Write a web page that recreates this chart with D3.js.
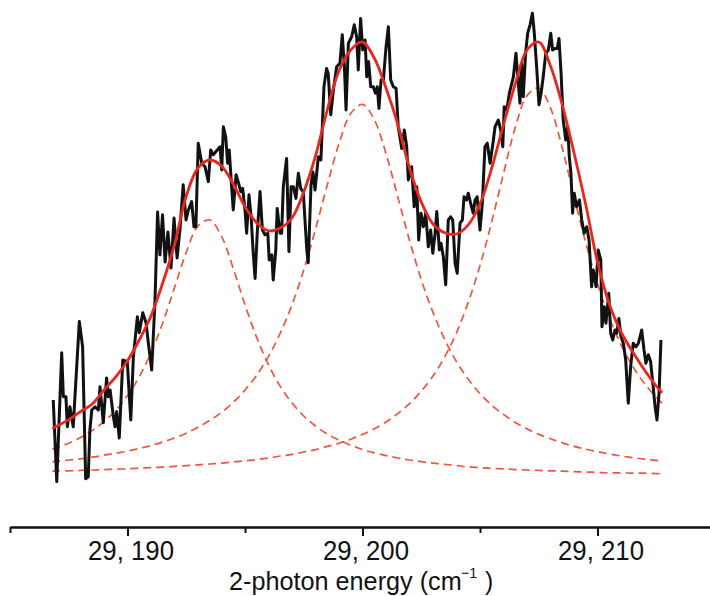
<!DOCTYPE html>
<html><head><meta charset="utf-8">
<script src="https://cdn.jsdelivr.net/npm/d3@7"></script>
<style>body{margin:0;background:#fff} svg{display:block}</style>
</head><body><svg id="chart" width="710" height="596"></svg>
<script>
const energy = [29186.84,29186.99,29187.20,29187.27,29187.38,29187.44,29187.55,29187.62,29187.69,29187.95,
29188.09,29188.22,29188.33,29188.40,29188.48,29188.62,29188.76,29188.83,29188.97,29189.11,
29189.18,29189.26,29189.40,29189.47,29189.54,29189.65,29189.80,29189.99,29190.14,29190.25,
29190.42,29190.50,29190.65,29190.79,29190.88,29191.03,29191.17,29191.28,29191.38,29191.49,
29191.60,29191.72,29191.85,29191.98,29192.11,29192.23,29192.37,29192.49,29192.59,29192.73,
29192.83,29192.91,29193.01,29193.16,29193.30,29193.44,29193.54,29193.65,29193.82,29193.94,
29194.01,29194.08,29194.18,29194.26,29194.33,29194.43,29194.50,29194.62,29194.71,29194.82,
29194.90,29195.00,29195.07,29195.17,29195.26,29195.35,29195.43,29195.52,29195.64,29195.74,
29195.85,29195.97,29196.03,29196.14,29196.20,29196.31,29196.37,29196.49,29196.56,29196.63,
29196.77,29196.87,29196.96,29197.06,29197.17,29197.27,29197.37,29197.48,29197.63,29197.69,
29197.81,29197.89,29197.98,29198.12,29198.23,29198.36,29198.47,29198.54,29198.65,29198.76,
29198.90,29199.04,29199.14,29199.23,29199.30,29199.40,29199.54,29199.65,29199.75,29199.82,
29199.92,29200.01,29200.11,29200.18,29200.26,29200.35,29200.46,29200.55,29200.63,29200.70,
29200.79,29200.89,29200.99,29201.10,29201.20,29201.31,29201.43,29201.52,29201.67,29201.78,
29201.88,29201.95,29202.09,29202.20,29202.31,29202.39,29202.49,29202.59,29202.69,29202.80,
29202.90,29202.99,29203.09,29203.16,29203.27,29203.34,29203.44,29203.54,29203.65,29203.75,
29203.84,29203.94,29204.03,29204.15,29204.25,29204.32,29204.43,29204.50,29204.60,29204.71,
29204.79,29204.88,29205.00,29205.10,29205.21,29205.31,29205.43,29205.57,29205.64,29205.78,
29205.88,29205.97,29206.03,29206.14,29206.25,29206.42,29206.53,29206.63,29206.70,29206.77,
29206.84,29206.94,29207.03,29207.13,29207.23,29207.31,29207.41,29207.51,29207.60,29207.69,
29207.80,29207.91,29208.01,29208.09,29208.19,29208.29,29208.36,29208.45,29208.54,29208.65,
29208.73,29208.80,29208.87,29208.94,29209.01,29209.11,29209.23,29209.33,29209.43,29209.54,
29209.64,29209.75,29209.82,29209.94,29210.03,29210.14,29210.19,29210.29,29210.36,29210.48,
29210.56,29210.65,29210.74,29210.82,29210.91,29211.00,29211.10,29211.20,29211.31,29211.41,
29211.52,29211.64,29211.74,29211.88,29211.98,29212.06,29212.16,29212.26,29212.37,29212.45,
29212.53,29212.62,29212.70];
const signal = [22.5,2.1,34.3,23.3,23.3,15.8,20.8,18.3,15.8,42.1,
35.8,2.8,3.3,15.0,20.0,20.8,20.0,25.8,16.8,28.0,
23.3,25.0,18.3,15.8,19.6,13.0,32.5,32.1,17.5,33.3,
43.3,39.3,44.3,41.8,37.1,30.0,47.5,69.5,58.8,68.8,
57.0,64.5,55.5,68.0,58.0,65.0,76.3,67.5,70.0,72.1,
65.8,65.8,86.7,81.7,80.8,77.1,85.0,83.8,85.0,85.8,
80.0,90.8,88.3,81.7,85.0,75.8,70.0,78.8,77.1,74.6,
75.4,70.0,64.2,73.8,68.3,59.2,52.9,64.2,74.6,65.0,
63.8,64.2,57.5,58.8,52.5,60.0,70.4,64.2,64.2,75.8,
82.9,59.6,75.8,75.8,72.9,79.2,75.4,74.5,60.0,56.8,
76.3,79.5,75.0,83.3,82.5,100.8,105.4,104.2,93.8,100.0,
105.8,106.7,113.8,105.8,95.0,111.7,113.3,116.3,113.3,105.0,
117.9,110.0,112.5,103.3,107.1,100.8,100.8,99.2,100.8,95.4,
102.5,102.5,110.0,115.8,102.5,100.8,100.4,90.8,85.4,90.0,
85.8,77.5,80.8,70.8,75.8,62.5,69.2,65.8,69.2,60.8,
65.0,59.2,64.2,69.6,60.0,61.7,58.3,51.3,67.5,68.3,
67.5,56.7,54.2,66.7,67.5,73.3,72.5,74.2,71.7,69.2,
72.5,73.3,65.0,71.7,85.8,86.7,81.7,87.5,90.8,92.5,
90.0,85.8,95.8,95.0,99.2,103.3,109.2,101.7,96.7,106.7,
98.3,109.2,114.2,116.3,119.2,114.2,105.8,96.3,99.2,103.3,
109.2,110.0,114.2,110.0,110.4,110.4,112.9,104.2,92.5,87.5,
90.8,83.3,79.2,69.2,74.2,70.8,72.5,67.5,64.2,65.8,
62.5,50.8,55.0,50.8,60.0,57.5,40.8,45.8,41.7,49.2,
39.2,37.5,40.0,39.2,42.9,38.3,36.7,32.5,21.7,30.8,
36.7,35.8,36.7,40.0,35.0,31.7,33.8,32.1,25.8,20.8,
17.5,24.2,37.5];

const fitEnergy = [29186.8,29187,29187.5,29188,29188.5,29189,29189.5,29190,29190.5,29191,
29191.5,29192,29192.5,29193,29193.5,29194,29194.5,29195,29195.5,29196,
29196.5,29197,29197.5,29198,29198.5,29199,29199.5,29200,29200.5,29201,
29201.5,29202,29202.5,29203,29203.5,29204,29204.5,29205,29205.5,29206,
29206.5,29207,29207.5,29208,29208.5,29209,29209.5,29210,29210.5,29211,
29211.5,29212,29212.5,29212.75];
const fitTotal = [15.4,16.0,17.6,19.6,21.5,25.0,28.3,32.3,37.5,43.5,
51.8,61.3,73.5,80.5,82.5,81.0,76.5,70.8,66.8,64.8,
65.5,68.0,74.5,83.5,95.0,104.8,110,112,108,100.5,
91.5,80.5,72,66.5,64.3,64,66.3,71.5,80.5,91.3,
101.5,110,112,106,96.3,84.3,71.3,57,46.5,39.5,
34.5,30,26,24.3];
const fitPeak1 = [10.2,10.6,11.7,13.1,14.9,17.1,19.9,23.6,28.3,34.3,
41.8,50.6,59.4,66.0,67.5,63.4,55.4,46.3,38.1,31.3,
25.9,21.8,18.5,16.0,14.0,12.5,11.2,10.1,9.3,8.6,
8.0,7.5,7.1,6.7,6.4,6.1,5.8,5.6,5.4,5.3,
5.1,5.0,4.9,4.8,4.7,4.6,4.5,4.4,4.3,4.3,
4.2,4.2,4.1,4.1];
const fitPeak2 = [7.0,7.2,7.5,7.8,8.2,8.7,9.2,9.7,10.4,11.1,
12.0,13.0,14.2,15.7,17.4,19.4,21.9,25.0,28.7,33.4,
39.2,46.3,55.0,65.2,76.2,86.6,94.1,96.4,92.6,84.1,
73.3,62.4,52.6,44.4,37.6,32.1,27.7,24.1,21.2,18.9,
16.9,15.3,13.9,12.8,11.8,10.9,10.2,9.6,9.0,8.5,
8.1,7.7,7.4,7.2];
const fitPeak3 = [4.7,4.8,4.8,4.9,5.0,5.1,5.2,5.3,5.5,5.6,
5.7,5.9,6.1,6.3,6.5,6.7,7.0,7.3,7.6,8.0,
8.5,8.9,9.5,10.1,10.9,11.7,12.7,13.9,15.3,17.0,
19.1,21.6,24.7,28.5,33.3,39.3,46.9,56.1,67.1,79.1,
90.6,98.6,100.5,95.5,85.5,73.4,61.8,51.6,43.1,36.3,
30.9,26.6,23.2,21.7];

const minorTicks = [29185, 29195, 29205, 29215];
const majorTicks = [29190, 29200, 29210];
const tickLabels = ["29, 190", "29, 200", "29, 210"];
const titleMain = "2-photon energy (cm";
const titleSup = "\u22121";
const titleEnd = ")";

const svg = d3.select("#chart");
const x = d3.scaleLinear().domain([29185, 29215]).range([10, 715]);
const y = d3.scaleLinear().domain([0, 120]).range([490, 10]);

const rawLine = d3.line().x(d => x(d[0])).y(d => y(d[1])).curve(d3.curveLinear);
const fitLine = d3.line().x(d => x(d[0])).y(d => y(d[1])).curve(d3.curveCatmullRom.alpha(0.5));

const comps = [fitPeak1, fitPeak2, fitPeak3];
svg.append("g").selectAll("path").data(comps).join("path")
  .attr("d", p => fitLine(d3.zip(fitEnergy, p)))
  .attr("fill", "none").attr("stroke", "#f2553f").attr("stroke-width", 1.7)
  .attr("stroke-dasharray", "8,5");

svg.append("path").datum(d3.zip(energy, signal))
  .attr("d", rawLine).attr("fill", "none").attr("stroke", "#111")
  .attr("stroke-width", 3).attr("stroke-linejoin", "round");

svg.append("path").datum(d3.zip(fitEnergy, fitTotal))
  .attr("d", fitLine).attr("fill", "none").attr("stroke", "#e8281f")
  .attr("stroke-width", 2.8);

const axisY = 527;
const fontFam = "'Liberation Sans',Arial,sans-serif";
const gMinor = svg.append("g").attr("transform", `translate(0,${axisY})`)
  .call(d3.axisBottom(x).tickValues(minorTicks).tickSize(6).tickSizeOuter(0).tickFormat(""));
const gMajor = svg.append("g").attr("transform", `translate(0,${axisY})`)
  .call(d3.axisBottom(x).tickValues(majorTicks).tickSize(9).tickSizeOuter(0).tickFormat((d, i) => tickLabels[i]));
[gMinor, gMajor].forEach(g => {
  g.select(".domain").attr("stroke", "#111").attr("stroke-width", 2);
  g.selectAll(".tick line").attr("stroke", "#111").attr("stroke-width", 2);
});
gMajor.selectAll(".tick text")
  .attr("x", null).attr("y", null).attr("dy", null)
  .attr("transform", "translate(3,33) scale(0.92,1)")
  .attr("fill", "#111")
  .style("font-family", fontFam)
  .style("font-size", "28px");

const titleG = svg.append("g").attr("fill", "#111")
  .style("font-family", fontFam);
titleG.append("text")
  .attr("transform", "translate(229,590) scale(0.97,1)")
  .style("font-size", "26px")
  .text(titleMain);
titleG.append("text")
  .attr("transform", "translate(461,578) scale(0.95,1)")
  .style("font-size", "15px")
  .text(titleSup);
titleG.append("text")
  .attr("transform", "translate(485,590) scale(0.95,1)")
  .style("font-size", "26px")
  .text(titleEnd);
</script>
</body></html>
